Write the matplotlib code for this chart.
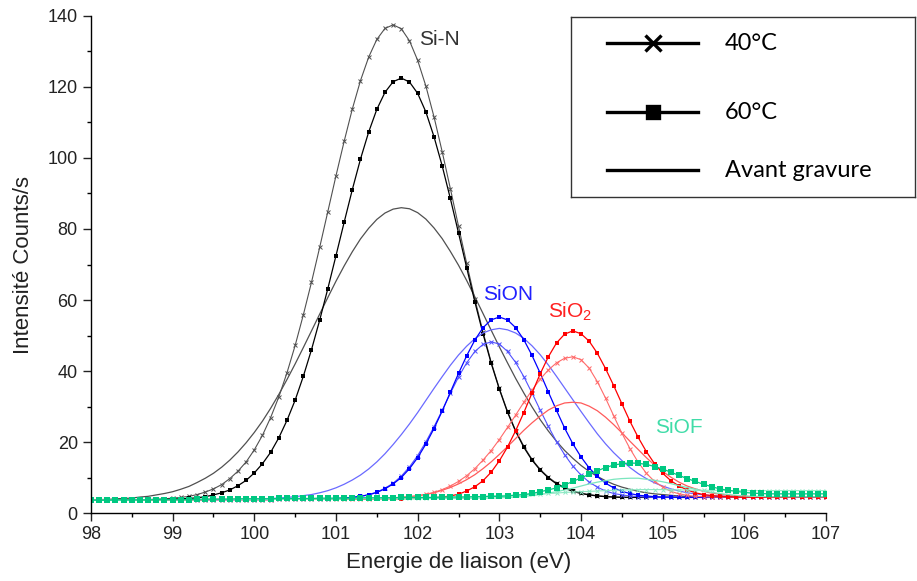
import matplotlib
matplotlib.use("Agg")
import matplotlib.pyplot as plt
from matplotlib.ticker import MultipleLocator

plt.rcParams['font.family'] = ['Liberation Sans', 'DejaVu Sans']
plt.rcParams['mathtext.default'] = 'regular'

# energie de liaison (eV)
energie = [
    98.0, 98.1, 98.2, 98.3, 98.4, 98.5, 98.6, 98.7, 98.8, 98.9,
    99.0, 99.1, 99.2, 99.3, 99.4, 99.5, 99.6, 99.7, 99.8, 99.9,
    100.0, 100.1, 100.2, 100.3, 100.4, 100.5, 100.6, 100.7, 100.8, 100.9,
    101.0, 101.1, 101.2, 101.3, 101.4, 101.5, 101.6, 101.7, 101.8, 101.9,
    102.0, 102.1, 102.2, 102.3, 102.4, 102.5, 102.6, 102.7, 102.8, 102.9,
    103.0, 103.1, 103.2, 103.3, 103.4, 103.5, 103.6, 103.7, 103.8, 103.9,
    104.0, 104.1, 104.2, 104.3, 104.4, 104.5, 104.6, 104.7, 104.8, 104.9,
    105.0, 105.1, 105.2, 105.3, 105.4, 105.5, 105.6, 105.7, 105.8, 105.9,
    106.0, 106.1, 106.2, 106.3, 106.4, 106.5, 106.6, 106.7, 106.8, 106.9,
    107.0]

# Si-N
sin_40 = [
    3.6, 3.6, 3.6, 3.6, 3.7, 3.7, 3.7, 3.8, 3.9, 4.0,
    4.2, 4.4, 4.7, 5.2, 5.9, 6.8, 8.0, 9.7, 11.8, 14.4,
    17.8, 21.9, 26.9, 32.7, 39.5, 47.2, 55.8, 65.0, 74.8, 84.9,
    95.0, 104.7, 113.8, 121.8, 128.4, 133.4, 136.5, 137.5, 136.4, 133.0,
    127.5, 120.3, 111.6, 101.8, 91.4, 80.8, 70.3, 60.3, 51.0, 42.5,
    35.1, 28.6, 23.2, 18.8, 15.1, 12.3, 10.1, 8.4, 7.2, 6.3,
    5.6, 5.2, 4.9, 4.7, 4.5, 4.5, 4.4, 4.4, 4.4, 4.4,
    4.4, 4.4, 4.4, 4.4, 4.4, 4.4, 4.4, 4.5, 4.5, 4.5,
    4.5, 4.5, 4.5, 4.5, 4.5, 4.5, 4.6, 4.6, 4.6, 4.6,
    4.6]
sin_60 = [
    3.6, 3.6, 3.6, 3.6, 3.6, 3.7, 3.7, 3.7, 3.7, 3.8,
    3.9, 4.0, 4.1, 4.3, 4.6, 5.1, 5.7, 6.5, 7.7, 9.2,
    11.3, 13.9, 17.1, 21.2, 26.1, 31.8, 38.5, 46.0, 54.3, 63.2,
    72.5, 81.9, 91.1, 99.7, 107.3, 113.7, 118.5, 121.5, 122.5, 121.4,
    118.2, 113.0, 106.0, 97.8, 88.6, 78.9, 69.1, 59.5, 50.5, 42.2,
    34.9, 28.4, 23.0, 18.5, 14.9, 12.1, 9.9, 8.2, 7.0, 6.1,
    5.5, 5.1, 4.8, 4.6, 4.5, 4.4, 4.4, 4.4, 4.4, 4.4,
    4.4, 4.4, 4.4, 4.4, 4.4, 4.4, 4.4, 4.5, 4.5, 4.5,
    4.5, 4.5, 4.5, 4.5, 4.5, 4.5, 4.6, 4.6, 4.6, 4.6,
    4.6]
sin_avant = [
    3.7, 3.8, 3.8, 4.0, 4.1, 4.2, 4.5, 4.7, 5.1, 5.5,
    6.0, 6.7, 7.5, 8.6, 9.8, 11.2, 12.9, 14.9, 17.2, 19.8,
    22.7, 25.9, 29.5, 33.4, 37.6, 42.0, 46.6, 51.3, 56.0, 60.7,
    65.3, 69.6, 73.6, 77.2, 80.2, 82.7, 84.5, 85.6, 86.0, 85.7,
    84.6, 82.8, 80.3, 77.3, 73.7, 69.8, 65.5, 60.9, 56.2, 51.5,
    46.8, 42.3, 37.9, 33.8, 29.9, 26.3, 23.1, 20.2, 17.6, 15.4,
    13.4, 11.7, 10.3, 9.1, 8.1, 7.3, 6.7, 6.1, 5.7, 5.4,
    5.2, 5.0, 4.8, 4.7, 4.6, 4.6, 4.6, 4.5, 4.5, 4.5,
    4.5, 4.5, 4.5, 4.5, 4.5, 4.5, 4.6, 4.6, 4.6, 4.6,
    4.6]

# SiON
sion_40 = [
    3.6, 3.6, 3.6, 3.6, 3.6, 3.7, 3.7, 3.7, 3.7, 3.7,
    3.7, 3.7, 3.7, 3.7, 3.8, 3.8, 3.8, 3.8, 3.8, 3.8,
    3.8, 3.8, 3.8, 3.9, 3.9, 3.9, 3.9, 3.9, 3.9, 4.0,
    4.1, 4.2, 4.4, 4.7, 5.2, 5.9, 7.0, 8.4, 10.4, 13.0,
    16.2, 20.0, 24.3, 28.9, 33.7, 38.3, 42.3, 45.5, 47.5, 48.2,
    47.6, 45.5, 42.4, 38.4, 33.8, 29.0, 24.4, 20.1, 16.4, 13.2,
    10.7, 8.7, 7.3, 6.2, 5.5, 5.1, 4.8, 4.6, 4.5, 4.4,
    4.4, 4.4, 4.4, 4.4, 4.4, 4.4, 4.4, 4.5, 4.5, 4.5,
    4.5, 4.5, 4.5, 4.5, 4.5, 4.5, 4.6, 4.6, 4.6, 4.6,
    4.6]
sion_60 = [
    3.6, 3.6, 3.6, 3.6, 3.6, 3.7, 3.7, 3.7, 3.7, 3.7,
    3.7, 3.7, 3.7, 3.7, 3.8, 3.8, 3.8, 3.8, 3.8, 3.8,
    3.8, 3.8, 3.8, 3.9, 3.9, 3.9, 3.9, 3.9, 4.0, 4.0,
    4.1, 4.2, 4.4, 4.7, 5.1, 5.8, 6.8, 8.2, 10.0, 12.5,
    15.6, 19.4, 23.8, 28.7, 34.0, 39.3, 44.3, 48.7, 52.2, 54.4,
    55.2, 54.4, 52.2, 48.8, 44.4, 39.4, 34.1, 28.9, 23.9, 19.5,
    15.8, 12.7, 10.3, 8.4, 7.1, 6.1, 5.5, 5.0, 4.8, 4.6,
    4.5, 4.5, 4.4, 4.4, 4.4, 4.4, 4.4, 4.5, 4.5, 4.5,
    4.5, 4.5, 4.5, 4.5, 4.5, 4.5, 4.6, 4.6, 4.6, 4.6,
    4.6]
sion_avant = [
    3.6, 3.6, 3.6, 3.6, 3.6, 3.7, 3.7, 3.7, 3.7, 3.7,
    3.7, 3.7, 3.7, 3.7, 3.8, 3.8, 3.8, 3.8, 3.8, 3.9,
    3.9, 4.0, 4.1, 4.2, 4.4, 4.6, 4.9, 5.2, 5.7, 6.3,
    7.1, 8.1, 9.3, 10.7, 12.4, 14.4, 16.7, 19.3, 22.1, 25.1,
    28.3, 31.7, 35.1, 38.4, 41.6, 44.5, 47.0, 49.1, 50.7, 51.6,
    52.0, 51.6, 50.7, 49.2, 47.1, 44.6, 41.7, 38.5, 35.2, 31.9,
    28.6, 25.4, 22.3, 19.5, 17.0, 14.8, 12.8, 11.1, 9.7, 8.5,
    7.6, 6.8, 6.2, 5.7, 5.4, 5.1, 4.9, 4.8, 4.7, 4.6,
    4.6, 4.6, 4.5, 4.5, 4.5, 4.5, 4.6, 4.6, 4.6, 4.6,
    4.6]

# SiO2
sio2_40 = [
    3.6, 3.6, 3.6, 3.6, 3.6, 3.7, 3.7, 3.7, 3.7, 3.7,
    3.7, 3.7, 3.7, 3.7, 3.8, 3.8, 3.8, 3.8, 3.8, 3.8,
    3.8, 3.8, 3.8, 3.9, 3.9, 3.9, 3.9, 3.9, 3.9, 3.9,
    3.9, 3.9, 4.0, 4.0, 4.0, 4.1, 4.1, 4.2, 4.4, 4.6,
    4.8, 5.3, 5.8, 6.6, 7.6, 8.9, 10.5, 12.5, 14.9, 17.6,
    20.7, 24.1, 27.6, 31.2, 34.6, 37.7, 40.3, 42.3, 43.6, 44.0,
    43.2, 40.8, 37.0, 32.4, 27.4, 22.5, 18.1, 14.3, 11.2, 8.9,
    7.3, 6.1, 5.4, 5.0, 4.7, 4.6, 4.5, 4.5, 4.5, 4.5,
    4.5, 4.5, 4.5, 4.5, 4.5, 4.5, 4.6, 4.6, 4.6, 4.6,
    4.6]
sio2_60 = [
    3.6, 3.6, 3.6, 3.6, 3.6, 3.7, 3.7, 3.7, 3.7, 3.7,
    3.7, 3.7, 3.7, 3.7, 3.8, 3.8, 3.8, 3.8, 3.8, 3.8,
    3.8, 3.8, 3.8, 3.9, 3.9, 3.9, 3.9, 3.9, 3.9, 3.9,
    3.9, 3.9, 4.0, 4.0, 4.0, 4.0, 4.0, 4.0, 4.0, 4.1,
    4.1, 4.2, 4.3, 4.5, 4.8, 5.3, 6.2, 7.4, 9.1, 11.5,
    14.7, 18.6, 23.2, 28.3, 33.8, 39.2, 44.0, 47.9, 50.4, 51.3,
    50.5, 48.4, 45.0, 40.7, 35.9, 30.8, 25.8, 21.3, 17.3, 13.9,
    11.2, 9.1, 7.6, 6.5, 5.7, 5.2, 4.9, 4.7, 4.6, 4.5,
    4.5, 4.5, 4.5, 4.5, 4.5, 4.5, 4.6, 4.6, 4.6, 4.6,
    4.6]
sio2_avant = [
    3.6, 3.6, 3.6, 3.6, 3.6, 3.7, 3.7, 3.7, 3.7, 3.7,
    3.7, 3.7, 3.7, 3.7, 3.8, 3.8, 3.8, 3.8, 3.8, 3.8,
    3.8, 3.8, 3.8, 3.9, 3.9, 3.9, 3.9, 3.9, 3.9, 3.9,
    3.9, 3.9, 4.0, 4.0, 4.0, 4.1, 4.2, 4.3, 4.4, 4.6,
    4.9, 5.2, 5.7, 6.4, 7.2, 8.2, 9.4, 10.8, 12.5, 14.4,
    16.5, 18.7, 21.0, 23.3, 25.4, 27.3, 29.0, 30.2, 31.0, 31.2,
    31.0, 30.1, 28.8, 27.0, 24.9, 22.6, 20.2, 17.9, 15.6, 13.5,
    11.7, 10.1, 8.7, 7.6, 6.8, 6.1, 5.6, 5.3, 5.0, 4.8,
    4.7, 4.6, 4.6, 4.6, 4.6, 4.6, 4.6, 4.6, 4.6, 4.6,
    4.6]

# SiOF
siof_40 = [
    3.6, 3.6, 3.6, 3.6, 3.6, 3.6, 3.7, 3.7, 3.7, 3.7,
    3.7, 3.7, 3.7, 3.7, 3.8, 3.8, 3.8, 3.8, 3.8, 3.8,
    3.8, 3.8, 3.9, 3.9, 3.9, 3.9, 3.9, 4.0, 4.0, 4.0,
    4.0, 4.0, 4.1, 4.1, 4.1, 4.1, 4.2, 4.2, 4.2, 4.3,
    4.3, 4.3, 4.4, 4.4, 4.5, 4.5, 4.6, 4.6, 4.7, 4.8,
    4.9, 5.0, 5.1, 5.2, 5.3, 5.4, 5.5, 5.6, 5.8, 5.9,
    6.0, 6.1, 6.2, 6.3, 6.4, 6.5, 6.5, 6.6, 6.6, 6.6,
    6.6, 6.5, 6.5, 6.5, 6.4, 6.4, 6.4, 6.4, 6.3, 6.3,
    6.3, 6.3, 6.3, 6.3, 6.3, 6.3, 6.3, 6.3, 6.3, 6.3,
    6.3]
siof_60 = [
    3.6, 3.6, 3.6, 3.7, 3.7, 3.7, 3.7, 3.7, 3.8, 3.8,
    3.8, 3.8, 3.8, 3.9, 3.9, 3.9, 3.9, 3.9, 4.0, 4.0,
    4.0, 4.0, 4.0, 4.1, 4.1, 4.1, 4.1, 4.1, 4.2, 4.2,
    4.2, 4.2, 4.2, 4.3, 4.3, 4.3, 4.3, 4.3, 4.4, 4.4,
    4.4, 4.4, 4.4, 4.5, 4.5, 4.5, 4.5, 4.6, 4.6, 4.7,
    4.7, 4.8, 5.0, 5.2, 5.5, 6.0, 6.5, 7.1, 7.9, 8.9,
    9.9, 10.9, 11.9, 12.8, 13.5, 13.9, 14.1, 14.0, 13.7, 13.1,
    12.4, 11.5, 10.6, 9.7, 8.9, 8.1, 7.4, 6.8, 6.4, 6.1,
    5.8, 5.6, 5.5, 5.4, 5.4, 5.4, 5.4, 5.4, 5.4, 5.4,
    5.4]
siof_avant = [
    3.6, 3.6, 3.6, 3.6, 3.6, 3.7, 3.7, 3.7, 3.7, 3.7,
    3.7, 3.7, 3.7, 3.7, 3.8, 3.8, 3.8, 3.8, 3.8, 3.8,
    3.8, 3.8, 3.8, 3.9, 3.9, 3.9, 3.9, 3.9, 3.9, 3.9,
    3.9, 3.9, 4.0, 4.0, 4.0, 4.0, 4.0, 4.0, 4.0, 4.0,
    4.0, 4.1, 4.1, 4.1, 4.1, 4.1, 4.1, 4.2, 4.2, 4.2,
    4.3, 4.4, 4.5, 4.7, 4.9, 5.2, 5.6, 6.0, 6.5, 7.0,
    7.6, 8.2, 8.7, 9.1, 9.5, 9.7, 9.8, 9.8, 9.5, 9.2,
    8.8, 8.3, 7.7, 7.2, 6.7, 6.2, 5.8, 5.5, 5.2, 5.0,
    4.8, 4.7, 4.7, 4.6, 4.6, 4.6, 4.6, 4.6, 4.6, 4.6,
    4.6]

# (avant, 40, 60) colours per component
composantes = [
    ("Si-N", sin_avant, sin_40, sin_60, ("#505050", "#505050", "#000000")),
    ("SiON", sion_avant, sion_40, sion_60, ("#6a6aff", "#5050ff", "#0000ff")),
    ("SiO2", sio2_avant, sio2_40, sio2_60, ("#ff5a5a", "#ff6a6a", "#ff0000")),
    ("SiOF", siof_avant, siof_40, siof_60, ("#7ae6be", "#8ee8c4", "#00c882")),
]

fig = plt.figure(figsize=(9.17, 5.81), dpi=100)
ax = fig.add_axes([0.0992, 0.117, 0.8016, 0.8555])

for nom, avant, t40, t60, (c_av, c_40, c_60) in composantes:
    gros = 4.6 if nom == "SiOF" else 3.0
    ax.plot(energie, avant, color=c_av, lw=0.9)
    ax.plot(energie, t40, color=c_40, lw=0.8, marker='x', ms=3.2, mew=0.7)
    ax.plot(energie, t60, color=c_60, lw=0.9, marker='s', ms=gros, mew=0)

ax.set_xlim(98, 107)
ax.set_ylim(0, 140)
ax.xaxis.set_major_locator(MultipleLocator(1))
ax.xaxis.set_minor_locator(MultipleLocator(0.5))
ax.yaxis.set_major_locator(MultipleLocator(20))
ax.yaxis.set_minor_locator(MultipleLocator(10))
ax.spines['top'].set_visible(False)
ax.spines['right'].set_visible(False)
for s in ('left', 'bottom'):
    ax.spines[s].set_linewidth(1.0)
ax.tick_params(which='major', direction='out', length=6, width=1.0,
               labelsize=13, colors='#222222')
ax.tick_params(which='minor', direction='out', length=3, width=1.0)
ax.set_xlabel("Energie de liaison (eV)", fontsize=16, color='#222222', labelpad=6)
ax.set_ylabel("Intensité Counts/s", fontsize=16, color='#222222', labelpad=10)

ax.text(102.02, 131.8, "Si-N", fontsize=15, color='#333333', va='baseline')
ax.text(102.80, 60.0, "SiON", fontsize=15, color='#2020ff', va='baseline')
ax.text(103.60, 54.9, "SiO$_2$", fontsize=15, color='#ff2020', va='baseline')
ax.text(104.91, 22.5, "SiOF", fontsize=15, color='#40dca8', va='baseline')

# legend box drawn in pixel units
leg = fig.add_axes([571 / 917, 1 - 197 / 581, 344 / 917, 180 / 581])
leg.set_xlim(0, 344)
leg.set_ylim(180, 0)
leg.set_xticks([])
leg.set_yticks([])
for s in leg.spines.values():
    s.set_linewidth(1.0)
    s.set_color('#333333')
entrees = [("40°C", 'x', 11, 26), ("60°C", 's', 9, 95), ("Avant gravure", None, 0, 153)]
for label, mk, ms, yy in entrees:
    leg.plot([36, 81.5, 127], [yy, yy, yy], color='black', lw=2.4,
             marker=mk, ms=ms, mew=2.4, markevery=[1])
    leg.text(154, yy, label, fontsize=17, family=['Lato', 'DejaVu Sans'],
             va='center', ha='left', color='black')

fig.savefig("out.png", dpi=100)
